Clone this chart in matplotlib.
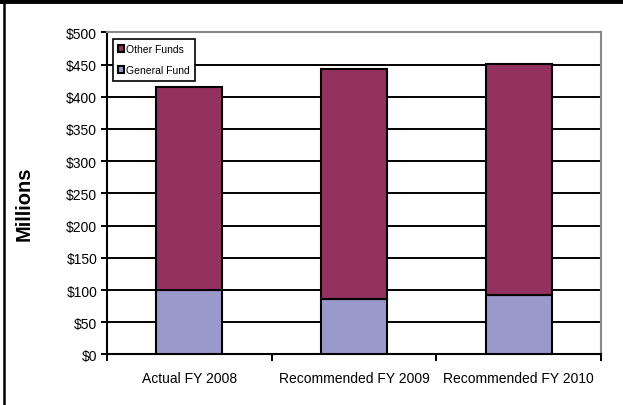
import matplotlib.pyplot as plt
import numpy as np

plt.rcParams['font.family'] = ['Liberation Sans', 'DejaVu Sans']

categories = ['Actual FY 2008', 'Recommended FY 2009', 'Recommended FY 2010']
general_fund = [100, 86, 92]
other_funds = [315, 357, 359]

fig = plt.figure(figsize=(6.23, 4.06), dpi=100)
ax = fig.add_axes([0.1717, 0.1244, 0.7930, 0.7936])

x = np.arange(len(categories))
ax.bar(x, general_fund, width=0.4, color='#9999CC', edgecolor='black',
       linewidth=1.5, label='General Fund', zorder=3)
ax.bar(x, other_funds, width=0.4, bottom=general_fund, color='#94325F',
       edgecolor='black', linewidth=1.5, label='Other Funds', zorder=3)

ax.set_xlim(-0.5, 2.5)
ax.set_ylim(0, 500)
ax.set_yticks(range(0, 501, 50))
ax.set_yticklabels([f'${v}' for v in range(0, 501, 50)], fontsize=10)
ax.yaxis.grid(True, color='black', linewidth=1.4, zorder=0)
ax.set_axisbelow(True)

ax.set_xticks(x)
ax.set_xticklabels(categories, fontsize=10)
ax.set_xticks([-0.5, 0.5, 1.5, 2.5], minor=True)
ax.tick_params(axis='x', which='major', length=0, pad=12)
ax.tick_params(axis='x', which='minor', length=5, width=1.4, direction='out')
ax.tick_params(axis='y', length=4, width=1.4, direction='out', pad=3)

ax.spines['left'].set_linewidth(1.5)
ax.spines['bottom'].set_linewidth(1.5)
ax.spines['top'].set_color('#888888')
ax.spines['top'].set_linewidth(1.5)
ax.spines['right'].set_color('#888888')
ax.spines['right'].set_linewidth(1.5)

ax.set_ylabel('Millions', fontsize=14.5, fontweight='bold')
ax.yaxis.set_label_coords(-0.148, 0.47)

handles, labels = ax.get_legend_handles_labels()
leg = ax.legend(handles[::-1], labels[::-1], loc='upper left',
                bbox_to_anchor=(0.012, 0.98), fontsize=7.5, frameon=True,
                fancybox=False, edgecolor='black', facecolor='white',
                framealpha=1, handlelength=0.6, handleheight=0.6,
                handletextpad=0.2, labelspacing=1.1, borderpad=0.5,
                borderaxespad=0)
leg.get_frame().set_linewidth(1.2)
leg.set_zorder(5)

# frame around the figure: heavy top edge and thin left edge
fig.add_artist(plt.Line2D([0, 1], [1 - 2 / 406, 1 - 2 / 406], color='black',
                          linewidth=3.5, transform=fig.transFigure))
fig.add_artist(plt.Line2D([4 / 623, 4 / 623], [0, 1], color='black',
                          linewidth=1.8, transform=fig.transFigure))

fig.savefig('out.png', dpi=100)
